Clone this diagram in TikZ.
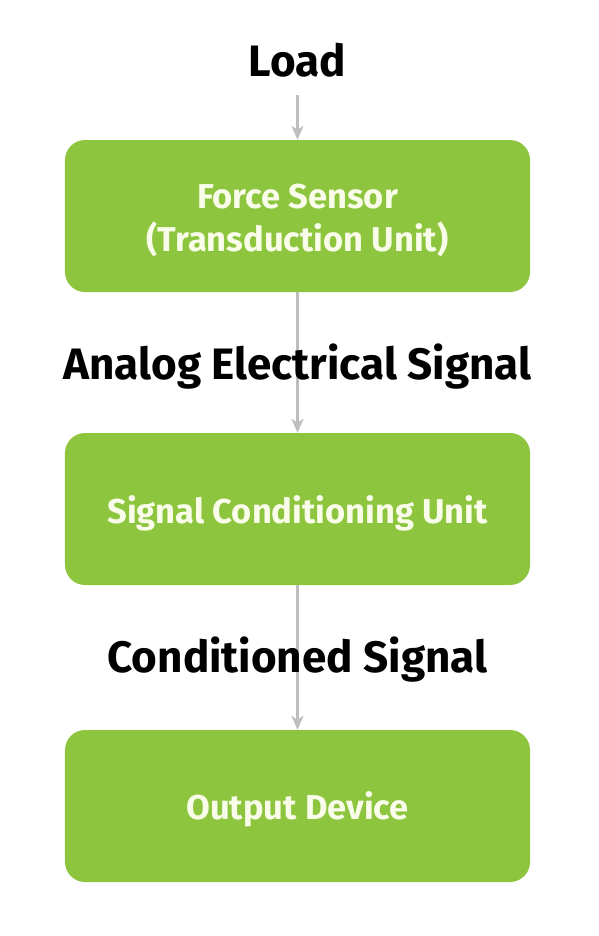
\documentclass[tikz,border=0pt]{standalone}
\usepackage{fontspec}
\setmainfont{Fira Sans}
\usetikzlibrary{arrows.meta}
\definecolor{boxgreen}{RGB}{141,197,62}
\definecolor{boxtext}{RGB}{248,252,232}
\definecolor{arrowgray}{RGB}{190,190,190}
\tikzset{
  stagebox/.style={draw=none, fill=boxgreen, rounded corners=20bp, minimum width=465bp, minimum height=152bp, inner sep=0pt},
  stagetext/.style={inner sep=0pt, text=boxtext, font=\bfseries\fontsize{34.5bp}{43bp}\selectfont, align=center},
  flowlabel/.style={text=black, font=\bfseries\fontsize{44bp}{50bp}\selectfont, inner sep=0pt},
  flowarrow/.style={draw=arrowgray, line width=2.5bp, -{Stealth[length=14bp,width=12bp,inset=4bp]}}
}
\begin{document}
\begin{tikzpicture}[x=1bp,y=-1bp]
\useasboundingbox (0,0) rectangle (599,936);
\node[stagebox] (fs) at (297.5,216) {};
\node[stagebox] (scu) at (297.5,509) {};
\node[stagebox] (od) at (297.5,806) {};
\node[stagetext] (fstext) at ([yshift=-4.5bp]fs.center) {Force Sensor\\(Transduction Unit)};
\node[stagetext] (scutext) at ([yshift=-4bp]scu.center) {Signal Conditioning Unit};
\node[stagetext] (odtext) at ([yshift=-3.5bp]od.center) {Output Device};
\coordinate (loadend) at (297.5,95);
\draw[flowarrow] (loadend) -- (fs.north);
\draw[flowarrow] (fs.south) -- (scu.north);
\draw[flowarrow] (scu.south) -- (od.north);
\node[flowlabel] (load) at (297.5,60) {Load};
\node[flowlabel] (aes) at (297.5,367) {Analog Electrical Signal};
\node[flowlabel] (cs) at (297.5,660) {Conditioned Signal};
\end{tikzpicture}
\end{document}
